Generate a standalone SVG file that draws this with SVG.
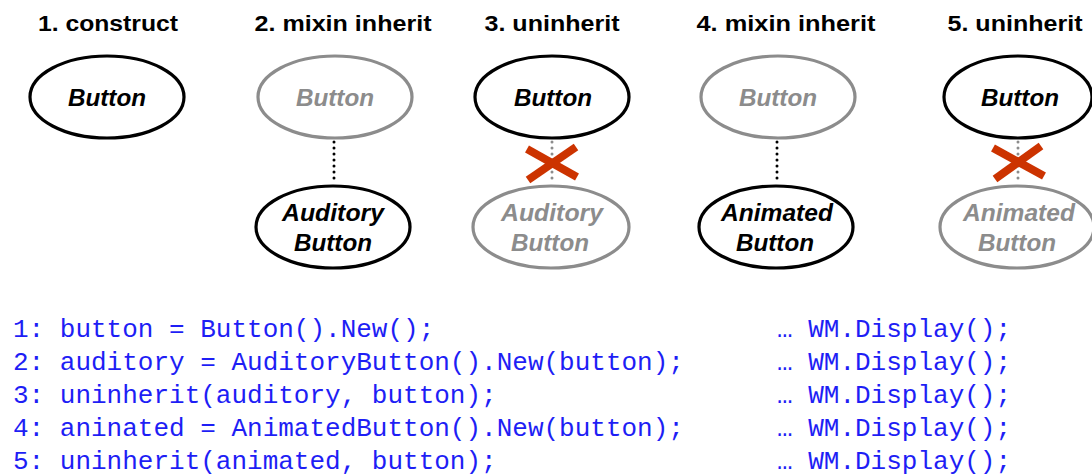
<svg xmlns="http://www.w3.org/2000/svg" width="1092" height="475" viewBox="0 0 1092 475">
  <style>
    .title { font-family: "Liberation Sans", Arial, sans-serif; font-weight: bold; font-size: 22.5px; fill: #000; text-anchor: middle; }
    .lbl { font-family: "Liberation Sans", Arial, sans-serif; font-weight: bold; font-style: italic; font-size: 23px; text-anchor: middle; }
    .on ellipse { fill: #fff; stroke: #000; stroke-width: 3.2; }
    .on text { fill: #000; }
    .off ellipse { fill: #fff; stroke: #8c8c8c; stroke-width: 3.2; }
    .off text { fill: #8c8c8c; }
    .link { stroke: #000; stroke-width: 3; stroke-linecap: round; stroke-dasharray: 0 6; fill: none; }
    .link.gone { stroke: #8c8c8c; }
    .cut { stroke: #cc3300; stroke-width: 8; fill: none; }
    .code { font-family: "Liberation Mono", "Courier New", monospace; font-size: 26px; fill: #1e1ef5; white-space: pre; }
  </style>

  <!-- step headings -->
  <g id="titles">
    <text class="title" x="108" y="31" textLength="140" lengthAdjust="spacingAndGlyphs">1. construct</text>
    <text class="title" x="343" y="31" textLength="177" lengthAdjust="spacingAndGlyphs">2. mixin inherit</text>
    <text class="title" x="552" y="31" textLength="135" lengthAdjust="spacingAndGlyphs">3. uninherit</text>
    <text class="title" x="786" y="31" textLength="179" lengthAdjust="spacingAndGlyphs">4. mixin inherit</text>
    <text class="title" x="1015" y="31" textLength="135" lengthAdjust="spacingAndGlyphs">5. uninherit</text>
  </g>

  <!-- parent/child links -->
  <g id="connectors">
    <line class="link" x1="334" y1="142" x2="334" y2="182"/>
    <line class="link gone" x1="552" y1="142" x2="552" y2="182"/>
    <line class="link" x1="777" y1="142" x2="777" y2="182"/>
    <line class="link gone" x1="1018" y1="142" x2="1018" y2="182"/>
    <g id="cut-3">
      <line class="cut" x1="527" y1="149" x2="577" y2="177"/>
      <line class="cut" x1="528" y1="180" x2="576" y2="147"/>
    </g>
    <g id="cut-5">
      <line class="cut" x1="993" y1="148" x2="1044" y2="176"/>
      <line class="cut" x1="995" y1="179" x2="1041" y2="146"/>
    </g>
  </g>

  <!-- step 1 -->
  <g id="s1-button" class="on">
    <ellipse cx="107" cy="97" rx="77" ry="41"/>
    <text class="lbl" x="107" y="106" textLength="78" lengthAdjust="spacingAndGlyphs">Button</text>
  </g>

  <!-- step 2 -->
  <g id="s2-button" class="off">
    <ellipse cx="335" cy="97" rx="77" ry="41"/>
    <text class="lbl" x="335" y="106" textLength="78" lengthAdjust="spacingAndGlyphs">Button</text>
  </g>
  <g id="s2-auditory" class="on">
    <ellipse cx="333" cy="227" rx="77" ry="41"/>
    <text class="lbl" x="333" y="221" textLength="102" lengthAdjust="spacingAndGlyphs">Auditory</text>
    <text class="lbl" x="333" y="251" textLength="78" lengthAdjust="spacingAndGlyphs">Button</text>
  </g>

  <!-- step 3 -->
  <g id="s3-button" class="on">
    <ellipse cx="552" cy="97" rx="77" ry="41"/>
    <text class="lbl" x="553" y="106" textLength="78" lengthAdjust="spacingAndGlyphs">Button</text>
  </g>
  <g id="s3-auditory" class="off">
    <ellipse cx="551" cy="227" rx="78" ry="41"/>
    <text class="lbl" x="552" y="221" textLength="102" lengthAdjust="spacingAndGlyphs">Auditory</text>
    <text class="lbl" x="550" y="251" textLength="78" lengthAdjust="spacingAndGlyphs">Button</text>
  </g>

  <!-- step 4 -->
  <g id="s4-button" class="off">
    <ellipse cx="778" cy="97" rx="77" ry="41"/>
    <text class="lbl" x="778" y="106" textLength="78" lengthAdjust="spacingAndGlyphs">Button</text>
  </g>
  <g id="s4-animated" class="on">
    <ellipse cx="776" cy="227" rx="77" ry="41"/>
    <text class="lbl" x="777" y="221" textLength="112" lengthAdjust="spacingAndGlyphs">Animated</text>
    <text class="lbl" x="775" y="251" textLength="78" lengthAdjust="spacingAndGlyphs">Button</text>
  </g>

  <!-- step 5 -->
  <g id="s5-button" class="on">
    <ellipse cx="1018" cy="97" rx="74" ry="41"/>
    <text class="lbl" x="1020" y="106" textLength="78" lengthAdjust="spacingAndGlyphs">Button</text>
  </g>
  <g id="s5-animated" class="off">
    <ellipse cx="1017" cy="227" rx="77" ry="41"/>
    <text class="lbl" x="1019" y="221" textLength="112" lengthAdjust="spacingAndGlyphs">Animated</text>
    <text class="lbl" x="1017" y="251" textLength="78" lengthAdjust="spacingAndGlyphs">Button</text>
  </g>

  <!-- program listing -->
  <g id="listing" class="code">
    <text x="13" y="337">1: button = Button().New();</text>
    <text x="13" y="370">2: auditory = AuditoryButton().New(button);</text>
    <text x="13" y="403">3: uninherit(auditory, button);</text>
    <text x="13" y="436">4: aninated = AnimatedButton().New(button);</text>
    <text x="13" y="469">5: uninherit(animated, button);</text>
    <text x="777" y="337">… WM.Display();</text>
    <text x="777" y="370">… WM.Display();</text>
    <text x="777" y="403">… WM.Display();</text>
    <text x="777" y="436">… WM.Display();</text>
    <text x="777" y="469">… WM.Display();</text>
  </g>
</svg>
